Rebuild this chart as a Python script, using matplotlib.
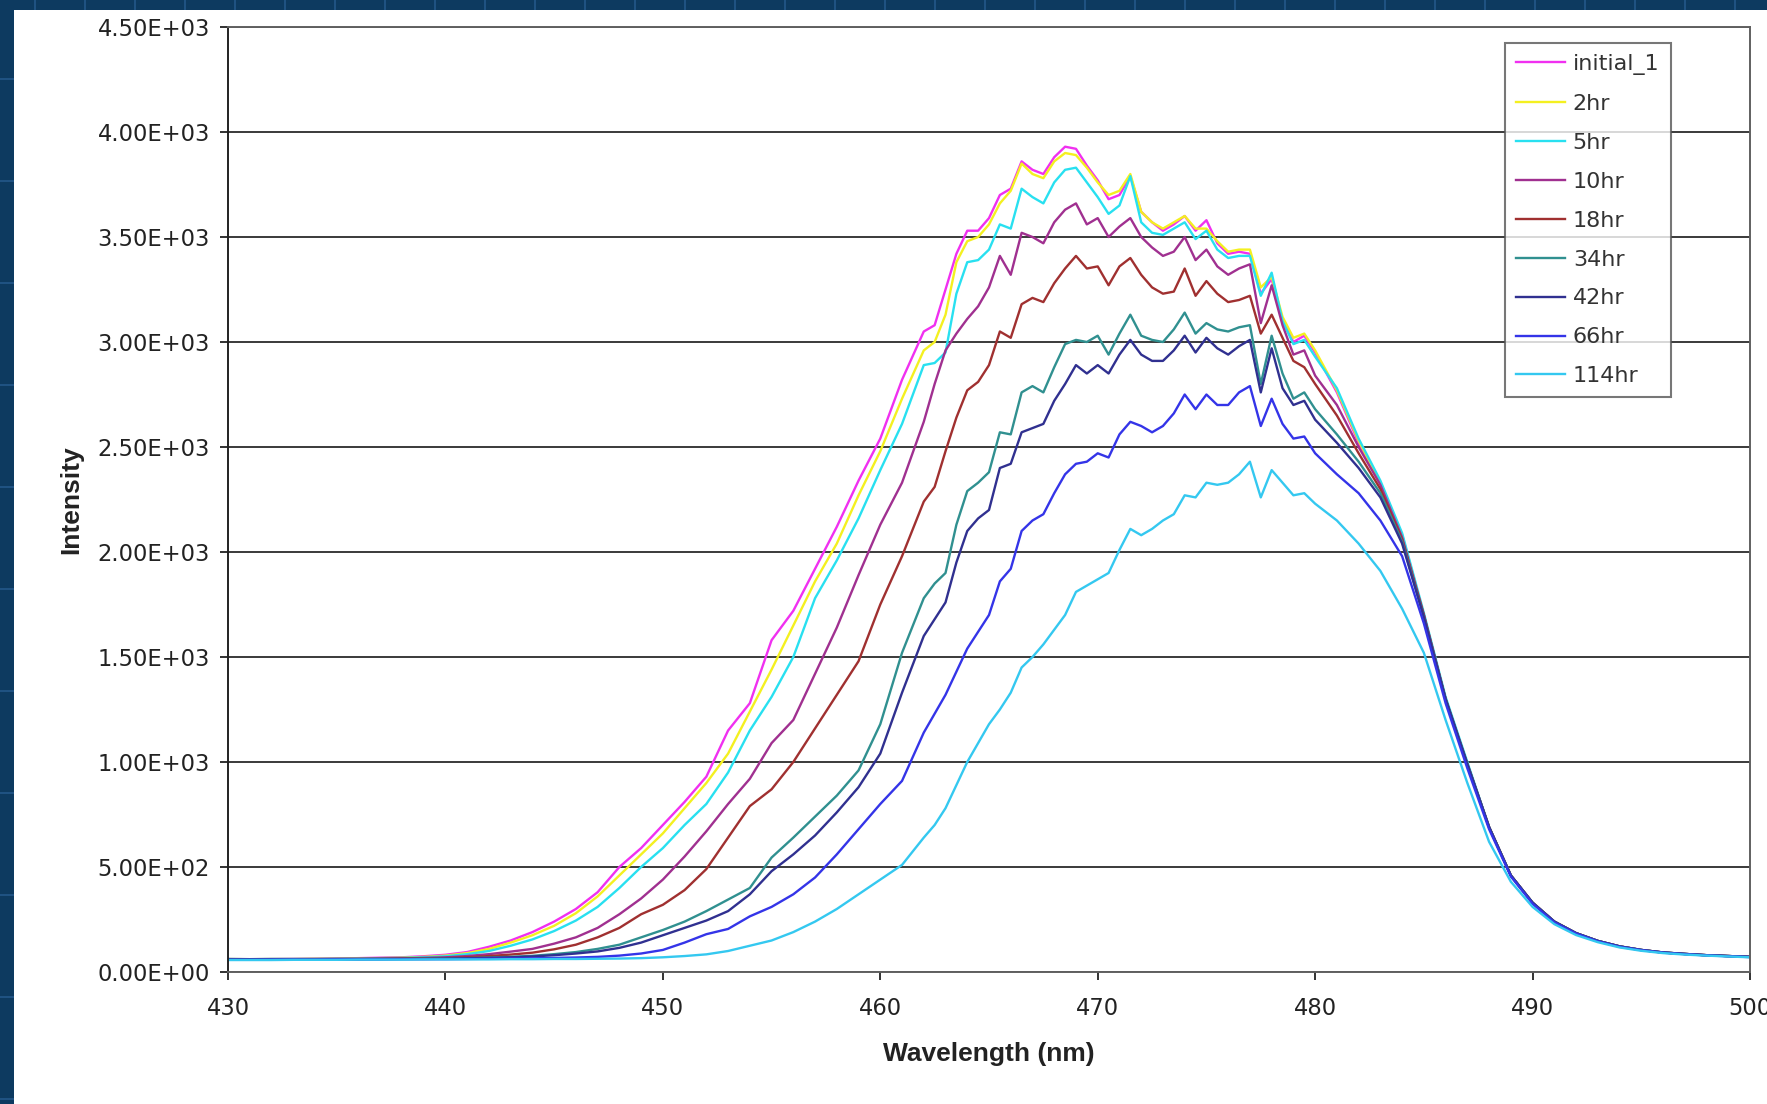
import numpy as np
import matplotlib
matplotlib.use('Agg')
import matplotlib.pyplot as plt
from matplotlib.lines import Line2D
from matplotlib.patches import Rectangle
from matplotlib.ticker import FuncFormatter

# wavelength grid (nm): 1 nm steps, 0.5 nm in the noisy peak region
wavelength = np.concatenate([np.arange(430, 462.5, 1.0),
                             np.arange(462.5, 480.5, 0.5),
                             np.arange(481, 500.5, 1.0)])

initial_1 = [62, 61, 62, 63, 63, 64, 66, 68, 70, 75, 82, 95, 120, 150, 190, 240, 300, 380, 500, 590,
             700, 810, 930, 1150, 1280, 1580, 1720, 1920, 2120, 2340, 2540, 2820, 3050,
             3080, 3250, 3420, 3530, 3530, 3590, 3700, 3730, 3860, 3820, 3800, 3880, 3930, 3920, 3840, 3770,
             3680, 3700, 3790, 3620, 3570, 3530, 3560, 3600, 3530, 3580, 3470, 3420, 3430, 3420, 3230, 3300,
             3100, 3000, 3030, 2950,
             2760, 2520, 2330, 2080, 1700, 1300, 990, 690, 460, 330, 240, 185, 148, 122, 105, 93, 86, 80, 76, 72]
hr2 = [62, 61, 62, 62, 63, 63, 65, 66, 68, 72, 78, 90, 110, 140, 175, 220, 280, 360, 460, 560,
       660, 780, 900, 1040, 1240, 1440, 1650, 1860, 2040, 2270, 2480, 2730, 2960,
       3000, 3130, 3380, 3480, 3500, 3560, 3660, 3720, 3850, 3800, 3780, 3860, 3900, 3890, 3830, 3760,
       3700, 3720, 3800, 3620, 3570, 3540, 3570, 3600, 3540, 3540, 3480, 3430, 3440, 3440, 3260, 3310,
       3120, 3020, 3040, 2960,
       2770, 2530, 2330, 2080, 1700, 1300, 990, 690, 460, 330, 240, 185, 148, 122, 105, 93, 86, 80, 76, 72]
hr5 = [62, 61, 62, 62, 62, 63, 64, 66, 67, 70, 75, 85, 100, 125, 155, 195, 245, 310, 400, 500,
       590, 700, 800, 950, 1150, 1310, 1500, 1780, 1960, 2160, 2390, 2610, 2890,
       2900, 2950, 3230, 3380, 3390, 3440, 3560, 3540, 3730, 3690, 3660, 3760, 3820, 3830, 3760, 3690,
       3610, 3650, 3790, 3570, 3520, 3510, 3540, 3570, 3490, 3530, 3440, 3400, 3410, 3410, 3220, 3330,
       3100, 2990, 3010, 2930,
       2780, 2540, 2340, 2090, 1710, 1310, 1000, 690, 460, 330, 240, 185, 148, 122, 105, 93, 86, 80, 76, 72]
hr10 = [61, 60, 61, 61, 62, 62, 63, 64, 65, 67, 70, 76, 85, 97, 110, 135, 165, 210, 275, 350,
        440, 550, 670, 800, 920, 1090, 1200, 1420, 1640, 1890, 2130, 2330, 2620,
        2800, 2960, 3040, 3110, 3170, 3260, 3410, 3320, 3520, 3500, 3470, 3570, 3630, 3660, 3560, 3590,
        3500, 3550, 3590, 3500, 3450, 3410, 3430, 3500, 3390, 3440, 3360, 3320, 3350, 3370, 3090, 3270,
        3080, 2940, 2960, 2840,
        2700, 2500, 2320, 2070, 1700, 1300, 990, 690, 460, 330, 240, 185, 148, 122, 105, 93, 86, 80, 76, 72]
hr18 = [60, 60, 60, 61, 61, 62, 62, 63, 64, 65, 66, 70, 76, 83, 92, 108, 130, 165, 210, 275,
        320, 390, 490, 640, 790, 870, 1000, 1160, 1320, 1480, 1750, 1980, 2240,
        2310, 2480, 2640, 2770, 2810, 2890, 3050, 3020, 3180, 3210, 3190, 3280, 3350, 3410, 3350, 3360,
        3270, 3360, 3400, 3320, 3260, 3230, 3240, 3350, 3220, 3290, 3230, 3190, 3200, 3220, 3040, 3130,
        3020, 2910, 2880, 2800,
        2650, 2470, 2300, 2060, 1700, 1300, 990, 690, 460, 330, 240, 185, 148, 122, 105, 93, 86, 80, 76, 72]
hr34 = [60, 60, 60, 60, 61, 61, 61, 62, 62, 63, 64, 66, 69, 72, 77, 85, 95, 110, 130, 165,
        200, 240, 290, 345, 400, 545, 640, 740, 840, 960, 1180, 1520, 1780,
        1850, 1900, 2130, 2290, 2330, 2380, 2570, 2560, 2760, 2790, 2760, 2880, 2990, 3010, 3000, 3030,
        2940, 3040, 3130, 3030, 3010, 3000, 3060, 3140, 3040, 3090, 3060, 3050, 3070, 3080, 2800, 3030,
        2850, 2730, 2760, 2680,
        2560, 2430, 2280, 2050, 1690, 1300, 990, 690, 460, 330, 240, 185, 148, 122, 105, 93, 86, 80, 76, 72]
hr42 = [60, 60, 60, 60, 60, 61, 61, 61, 62, 62, 63, 65, 67, 70, 74, 80, 88, 98, 115, 140,
        175, 210, 245, 290, 370, 480, 560, 650, 760, 880, 1040, 1330, 1600,
        1680, 1760, 1950, 2100, 2160, 2200, 2400, 2420, 2570, 2590, 2610, 2720, 2800, 2890, 2850, 2890,
        2850, 2940, 3010, 2940, 2910, 2910, 2960, 3030, 2950, 3020, 2970, 2940, 2980, 3010, 2760, 2970,
        2780, 2700, 2720, 2630,
        2520, 2400, 2260, 2040, 1690, 1300, 990, 690, 460, 330, 240, 185, 148, 122, 105, 93, 86, 80, 76, 72]
hr66 = [58, 58, 59, 59, 59, 60, 60, 60, 61, 61, 61, 62, 63, 64, 65, 67, 69, 72, 78, 88,
        105, 140, 180, 205, 265, 310, 370, 450, 560, 680, 800, 910, 1140,
        1230, 1320, 1430, 1540, 1620, 1700, 1860, 1920, 2100, 2150, 2180, 2280, 2370, 2420, 2430, 2470,
        2450, 2560, 2620, 2600, 2570, 2600, 2660, 2750, 2680, 2750, 2700, 2700, 2760, 2790, 2600, 2730,
        2610, 2540, 2550, 2470,
        2370, 2280, 2150, 1980, 1660, 1280, 970, 680, 455, 325, 236, 183, 146, 120, 104, 92, 85, 79, 75, 71]
hr114 = [57, 57, 57, 58, 58, 58, 59, 59, 59, 60, 60, 60, 60, 61, 61, 62, 62, 63, 64, 66,
         70, 76, 84, 100, 125, 150, 190, 240, 300, 370, 440, 510, 640,
         700, 780, 890, 1000, 1090, 1180, 1250, 1330, 1450, 1500, 1560, 1630, 1700, 1810, 1840, 1870,
         1900, 2010, 2110, 2080, 2110, 2150, 2180, 2270, 2260, 2330, 2320, 2330, 2370, 2430, 2260, 2390,
         2330, 2270, 2280, 2230,
         2150, 2040, 1910, 1730, 1520, 1200, 900, 620, 430, 310, 228, 176, 142, 117, 101, 90, 83, 78, 74, 70]

labels = ['initial_1', '2hr', '5hr', '10hr', '18hr', '34hr', '42hr', '66hr', '114hr']
series = [initial_1, hr2, hr5, hr10, hr18, hr34, hr42, hr66, hr114]
colors = ['#f030f0', '#f4f020', '#28e0f0', '#a03090', '#a03030',
          '#309090', '#303090', '#3434e8', '#34c8f0']

W, H = 1767, 1104
fig = plt.figure(figsize=(W / 100, H / 100), dpi=100, facecolor='#0d3a60')

# navy slide background with faint grid, white panel on top
for gx in range(35, W, 50):
    fig.add_artist(Line2D([gx / W, gx / W], [0, 1], color='#23588a', lw=1.2, zorder=-10))
for gy in range(79, H, 102):
    fig.add_artist(Line2D([0, 1], [1 - gy / H, 1 - gy / H], color='#23588a', lw=1.2, zorder=-10))
fig.patches.append(Rectangle((14 / W, 0), 1 - 14 / W, (H - 10) / H, transform=fig.transFigure,
                             facecolor='white', edgecolor='none', zorder=-5))

ax = fig.add_axes([228 / W, (H - 972) / H, (1750 - 228) / W, (972 - 27) / H])
for s, lab, c in zip(series, labels, colors):
    ax.plot(wavelength, s, color=c, lw=1.7, label=lab)

ax.set_xlim(430, 500)
ax.set_ylim(0, 4500)
ax.set_xticks(range(430, 501, 10))
ax.set_yticks(np.arange(0, 4501, 500))
ax.yaxis.set_major_formatter(FuncFormatter(lambda v, p: f'{v:.2E}'))
ax.grid(axis='y', color='#3a3a3a', lw=1.4)
ax.set_axisbelow(True)
for sp in ax.spines.values():
    sp.set_color('#606060')
    sp.set_linewidth(1.4)
ax.spines['left'].set_color('#222222')
ax.tick_params(axis='both', direction='out', length=6, width=1.3, colors='#222222',
               labelsize=16.3, labelcolor='#222222')
ax.tick_params(axis='y', pad=7)
ax.tick_params(axis='x', pad=12)

ax.set_xlabel('Wavelength (nm)', fontsize=19, fontweight='bold', family='Liberation Sans', color='#222222')
ax.set_ylabel('Intensity', fontsize=19, fontweight='bold', family='Liberation Sans', color='#222222')
ax.xaxis.set_label_coords(0.5, -0.074)
ax.yaxis.set_label_coords(-0.095, 0.5)

leg = ax.legend(loc='upper left', bbox_to_anchor=(1505 / W, 1 - 43 / H), bbox_transform=fig.transFigure,
                fontsize=16, frameon=True, fancybox=False, edgecolor='#555555', borderaxespad=0,
                handlelength=2.2, handletextpad=0.35, labelspacing=0.85, borderpad=0.5)
leg.get_frame().set_linewidth(1.5)
for t in leg.get_texts():
    t.set_color('#333333')

fig.savefig('out.png', dpi=100, facecolor=fig.get_facecolor())
